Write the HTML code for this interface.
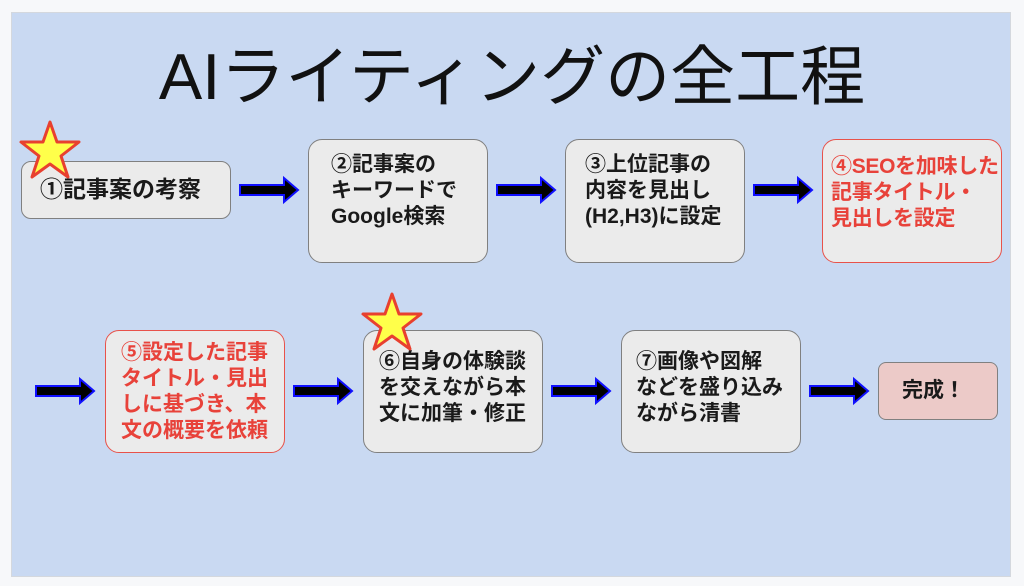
<!DOCTYPE html>
<html><head><meta charset="utf-8"><style>
body{margin:0;width:1024px;height:586px;background:#f7f8fa;position:relative;overflow:hidden;font-family:"Liberation Sans","Noto Sans CJK JP",sans-serif}
.bg{position:absolute;left:11px;top:12px;width:998px;height:563px;background:#c9d9f2;border:1px solid #d4d8de}
.box{position:absolute;background:#ebebeb;border:1.5px solid #808080;border-radius:14px;box-sizing:border-box}
.red{border-color:#e8524a}
.t{position:absolute;font-weight:bold;font-size:21px;line-height:26px;color:#1a1a1a;white-space:nowrap}
.r{color:#e8423a}
h1{position:absolute;left:0;width:1024px;top:38px;margin:0;text-align:center;font-weight:normal;font-size:65px;line-height:78px;color:#111}
svg{position:absolute}
</style></head><body>
<div class="bg"></div>
<h1>AIライティングの全工程</h1>

<div class="box" style="left:21px;top:161px;width:210px;height:58px;border-radius:10px"></div>
<div class="t" style="left:40px;top:175px;font-size:23px;line-height:28px">①記事案の考察</div>

<div class="box" style="left:308px;top:139px;width:180px;height:124px"></div>
<div class="t" style="left:331px;top:152px">②記事案の<br>キーワードで<br>Google検索</div>

<div class="box" style="left:565px;top:139px;width:180px;height:124px"></div>
<div class="t" style="left:585px;top:152px">③上位記事の<br>内容を見出し<br>(H2,H3)に設定</div>

<div class="box red" style="left:822px;top:139px;width:180px;height:124px"></div>
<div class="t r" style="left:831px;top:154px;letter-spacing:-0.3px">④SEOを加味した<br>記事タイトル・<br>見出しを設定</div>

<div class="box red" style="left:105px;top:330px;width:180px;height:123px"></div>
<div class="t r" style="left:121px;top:340px">⑤設定した記事<br>タイトル・見出<br>しに基づき、本<br>文の概要を依頼</div>

<div class="box" style="left:363px;top:330px;width:180px;height:123px"></div>
<div class="t" style="left:379px;top:349px">⑥自身の体験談<br>を交えながら本<br>文に加筆・修正</div>

<div class="box" style="left:621px;top:330px;width:180px;height:123px"></div>
<div class="t" style="left:636px;top:349px">⑦画像や図解<br>などを盛り込み<br>ながら清書</div>

<div class="box" style="left:878px;top:362px;width:120px;height:58px;background:#eccac8;border-radius:8px"></div>
<div class="t" style="left:902px;top:378px">完成！</div>

<svg width="1024" height="586" style="left:0;top:0">
<defs><path id="ar" d="M0,-5 H44 V-12 L58,0 L44,12 V5 H0 Z" fill="#000" stroke="#1010ff" stroke-width="2" stroke-linejoin="miter"/>
<polygon id="st" points="0,-30 7,-10 29,-10 11,4 18,25 0,12 -18,25 -11,4 -29,-10 -7,-10" fill="#ffff4a" stroke="#e8402f" stroke-width="3" stroke-linejoin="round"/></defs>
<use href="#ar" x="240" y="190"/>
<use href="#ar" x="497" y="190"/>
<use href="#ar" x="754" y="190"/>
<use href="#ar" x="36" y="391"/>
<use href="#ar" x="294" y="391"/>
<use href="#ar" x="552" y="391"/>
<use href="#ar" x="810" y="391"/>
<use href="#st" x="50" y="152"/>
<use href="#st" x="392" y="324"/>
</svg>
</body></html>
